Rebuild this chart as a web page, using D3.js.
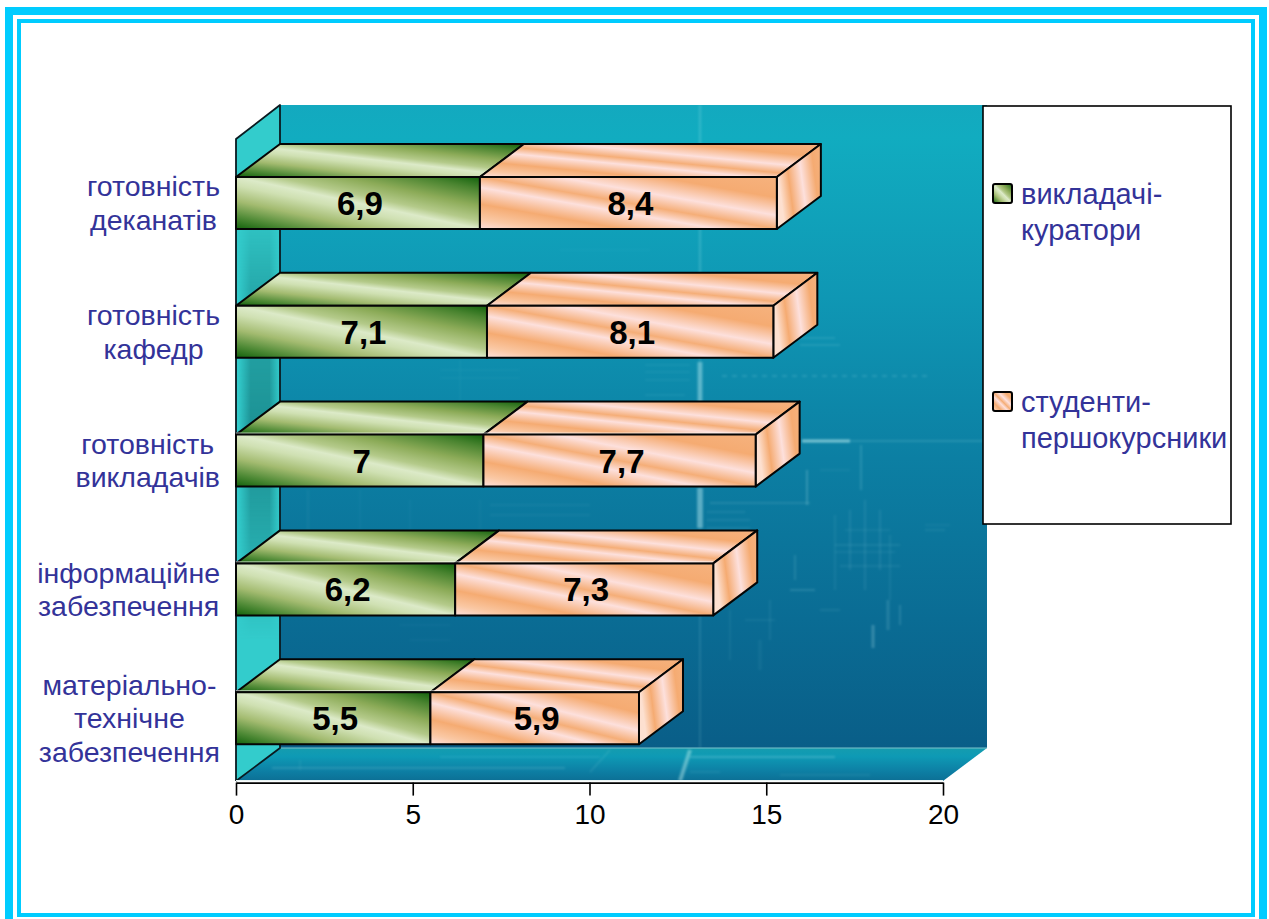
<!DOCTYPE html>
<html><head><meta charset="utf-8">
<script src="https://cdn.jsdelivr.net/npm/d3@7"></script>
<style>
html,body{margin:0;padding:0;background:#fff;overflow:hidden}
svg{display:block}
text{font-family:"Liberation Sans",Arial,sans-serif}
</style></head><body>
<svg id="c" width="1269" height="919"></svg>
<script>
const categories = [
  ["готовність","деканатів"],
  ["готовність","кафедр"],
  ["готовність","викладачів"],
  ["інформаційне","забезпечення"],
  ["матеріально-","технічне","забезпечення"]
];
const curators = [6.9, 7.1, 7, 6.2, 5.5];
const freshmen = [8.4, 8.1, 7.7, 7.3, 5.9];
const seriesNames = [["викладачі-","куратори"],["студенти-","першокурсники"]];
const xTicks = [0, 5, 10, 15, 20];

// faint blueprint texture of the wall picture
const wallTrace = [
  ["M700 105V748",.16,1.5],["M700 105V330",.07,3],["M700 362V402",.4,5],["M700 488V528",.4,6],
  ["M850 441H985",.28,1],["M802 441H850",.6,3],["M722 376H930",.18,1.5,"5 5"],["M645 365H690",.1,1],["M645 372H690",.1,1],["M645 380H690",.1,1],["M645 395H685",.12,1],
  ["M650 345H690",.08,1],["M800 345H840",.2,1],["M800 338H835",.2,1],["M710 503H810",.22,1],["M707 512H745",.16,1],["M707 520H750",.16,1],
  ["M707 528H750",.16,1],["M807 470V505",.28,1.5],["M861 445V490",.2,1.5],["M820 470H850",.1,1],
  ["M835 515V590",.14,1],["M850 510V570",.18,1],["M865 500V590",.18,1],["M880 510V570",.18,1],["M890 535V600",.14,1],
  ["M835 545H900",.16,1],["M835 552H895",.12,1],["M845 530H890",.12,1],["M840 566H900",.14,1],["M925 530H945",.14,1],["M925 525H950",.1,1],
  ["M795 555V580",.12,2],["M873 625V648",.24,3],["M888 600V630",.14,3],["M900 605V625",.14,2],
  ["M820 610H840",.16,1],["M790 590H815",.14,2],["M760 640V670",.06,3],["M770 600V640",.07,2],["M730 610V660",.06,2],["M745 620H775",.06,2],
  ["M460 360V420",.06,1],["M330 420V480",.06,1],["M410 500V530",.06,1],["M308 490V530",.07,1.5],["M360 490V530",.06,1],
  ["M480 500V530",.07,1],["M490 505H590",.1,1],["M490 515H590",.1,1],["M440 370H520",.06,1],["M440 378H520",.06,1],
  ["M400 625H450",.06,1],["M410 640H450",.06,1],["M560 250H650",.05,1],["M580 180H620",.05,1],["M550 470H650",.05,1],["M500 470V400",.05,1]
];
const floorTrace = [
  ["M272 768H565",.14,2],["M680 781L690 750",.42,4],["M690 757H835",.2,2],["M440 757H600",.08,2],
  ["M590 772L610 750",.12,1.5],["M300 760V770",.12,1],["M690 772H720",.14,1],["M780 775H870",.07,2]
];

const svg = d3.select("#c");
const defs = svg.append("defs");

function lin(id, x1, y1, x2, y2, stops){
  const g = defs.append("linearGradient").attr("id", id)
    .attr("x1",x1).attr("y1",y1).attr("x2",x2).attr("y2",y2);
  stops.forEach(([o,c,a])=>{
    const s = g.append("stop").attr("offset",o).attr("stop-color",c);
    if(a!==undefined) s.attr("stop-opacity",a);
  });
}
const green = [[0,"#12620c"],[.12,"#4f8a36"],[.27,"#a3bb70"],[.42,"#cfe0b2"],[.5,"#dceac8"],[.58,"#b4ca8a"],[.72,"#8cab58"],[.88,"#4a8430"],[1,"#12620c"]];
const peach = [[0,"#fde0dc"],[.1,"#fac8a4"],[.24,"#f5ab72"],[.4,"#fde0dc"],[.5,"#f5ae78"],[.63,"#fde0dc"],[.8,"#f5ab72"],[1,"#f6b27e"]];
lin("gGreen",0,1,1,0,green);
lin("gPeach",0,1,1,0,peach);
lin("gSide",0,.25,1,0,[[0,"#fde0d0"],[.22,"#f5ab72"],[.5,"#fde0dc"],[.78,"#f5ab72"],[1,"#f6b27e"]]);
lin("gWall",0,0,0,1,[[0,"#13a9bf"],[.05,"#11acc0"],[.3,"#0f97b4"],[.55,"#0c7fa3"],[.8,"#0a6c94"],[1,"#095e88"]]);
lin("gFloor",0,0,0,1,[[0,"#159cae"],[.25,"#0e9ab5"],[.7,"#0d7fa4"],[1,"#0c6f95"]]);
lin("gLeftBand",0,0,1,0,[[0,"#33cccc"],[.3,"#1c8f92"],[.75,"#1c8f92"],[1,"#33cccc"]]);
lin("gFade",0,0,0,1,[[0,"#fff",0],[.2,"#fff",.55],[.55,"#fff",1],[.78,"#fff",.55],[1,"#fff",0]]);
const m = defs.append("mask").attr("id","fade").attr("maskUnits","userSpaceOnUse")
  .attr("x",236).attr("y",200).attr("width",50).attr("height",440);
m.append("rect").attr("x",236).attr("y",200).attr("width",50).attr("height",440).attr("fill","url(#gFade)");
const blur = defs.append("filter").attr("id","soft").attr("filterUnits","userSpaceOnUse").attr("x",230).attr("y",100).attr("width",770).attr("height",690);
blur.append("feGaussianBlur").attr("stdDeviation",1);

// frame
const frame = svg.append("g").attr("fill","#00ccff");
[[5,7,8,912],[5,7,1262,8],[1259,7,8,912],[17,19,4,898],[17,19,1238,4],[1251,19,4,898],[17,913,1238,4]]
  .forEach(r=>frame.append("rect").attr("x",r[0]).attr("y",r[1]).attr("width",r[2]).attr("height",r[3]));

// scales
const x = d3.scaleLinear().domain([0,20]).range([236,943]);
const y = d3.scaleBand().domain(d3.range(categories.length)).range([138.6,782.6]).paddingInner(.596).paddingOuter(.298);
const dx = 44, dy = 33;
const y0 = 781;
const pts = a => a.map(p=>p.join(",")).join(" ");

// 3D chart room
const room = svg.append("g");
room.append("rect").attr("x",x(0)+dx).attr("y",105).attr("width",x(20)-x(0)).attr("height",y0-dy-105).attr("fill","url(#gWall)");
const tr = room.append("g").attr("fill","none").attr("stroke","#bfeef2").attr("filter","url(#soft)");
wallTrace.forEach(d=>tr.append("path").attr("d",d[0]).attr("stroke-opacity",d[1]).attr("stroke-width",d[2]).attr("stroke-dasharray",d[3]||null));
room.append("polygon").attr("points",pts([[x(0),y0],[x(20),y0],[x(20)+dx,y0-dy],[x(0)+dx,y0-dy]])).attr("fill","url(#gFloor)");
const ftr = room.append("g").attr("fill","none").attr("stroke","#c8f2ee").attr("filter","url(#soft)");
floorTrace.forEach(d=>ftr.append("path").attr("d",d[0]).attr("stroke-opacity",d[1]).attr("stroke-width",d[2]));
room.append("line").attr("x1",x(0)+dx).attr("x2",x(20)+dx).attr("y1",y0-dy).attr("y2",y0-dy).attr("stroke","#7cc4cc").attr("stroke-width",1.2);
room.append("polygon").attr("points",pts([[x(0),y0],[x(0),139],[x(0)+dx,105],[x(0)+dx,y0-dy]])).attr("fill","#33cccc");
room.append("rect").attr("x",x(0)+2).attr("y",200).attr("width",dx-2).attr("height",440).attr("fill","url(#gLeftBand)").attr("mask","url(#fade)");
room.append("path").attr("d",`M${x(0)} ${y0}V139L${x(0)+dx} 105V${y0-dy}L${x(0)} ${y0}`)
  .attr("fill","none").attr("stroke","#0a1a20").attr("stroke-width",1.8).attr("stroke-linejoin","round");

// bars
const rows = categories.map((c,i)=>({i, a:curators[i], b:freshmen[i]}));
const barG = svg.append("g").selectAll("g").data(rows).join("g");
const ink = {stroke:"#050505","stroke-width":2,"stroke-linejoin":"round"};
function style(s){Object.entries(ink).forEach(([k,v])=>s.attr(k,v));return s;}
barG.each(function(d){
  const g = d3.select(this), t = y(d.i), h = y.bandwidth();
  const segs = [[0,d.a,"url(#gGreen)"],[d.a,d.a+d.b,"url(#gPeach)"]];
  segs.forEach(([from,to,fill])=>{
    g.append("polygon").attr("points",pts([[x(from),t],[x(to),t],[x(to)+dx,t-dy],[x(from)+dx,t-dy]])).attr("fill",fill).call(style);
  });
  const end = d.a+d.b;
  g.append("polygon").attr("points",pts([[x(end),t],[x(end)+dx,t-dy],[x(end)+dx,t-dy+h],[x(end),t+h]])).attr("fill","url(#gSide)").call(style);
  segs.forEach(([from,to,fill])=>{
    g.append("rect").attr("x",x(from)).attr("y",t).attr("width",x(to)-x(from)).attr("height",h).attr("fill",fill).call(style);
  });
  if(d.i>=2){
    g.append("line").attr("x1",x(0)).attr("x2",x(end)).attr("y1",t-1.6).attr("y2",t-1.6).attr("stroke","#fff").attr("stroke-opacity",.6).attr("stroke-width",1);
  }
  segs.forEach(([from,to],k)=>{
    g.append("text").attr("x",(x(from)+x(to))/2+2).attr("y",t+h/2+12)
      .attr("text-anchor","middle").attr("font-size",33).attr("font-weight",700).attr("fill","#000")
      .text(String(k?d.b:d.a).replace(".",","));
  });
});

// value axis
svg.append("line").attr("x1",x(0)).attr("x2",x(20)).attr("y1",y0-.4).attr("y2",y0-.4).attr("stroke","#e8f4f4").attr("stroke-width",1.2);
const axis = svg.append("g").attr("transform",`translate(0,${y0+1.6})`)
  .call(d3.axisBottom(x).tickValues(xTicks).tickSize(13).tickSizeOuter(0).tickPadding(9).tickFormat(d3.format("d")));
axis.select(".domain").attr("stroke","#000").attr("stroke-width",1.6);
axis.selectAll(".tick line").attr("stroke","#000").attr("stroke-width",1.6);
axis.selectAll("text").attr("font-size",28).attr("font-family",'"Liberation Sans",Arial,sans-serif').attr("fill","#000");

// category labels: block flush right, lines centred within it
const catFont = 28.5, catLine = 33.5, catRight = 220;
const labels = svg.append("g").attr("fill","#333399").attr("font-size",catFont).attr("text-anchor","middle");
categories.forEach((lines,i)=>{
  const cy = y(i)+y.bandwidth()/2;
  const g = labels.append("g");
  const ts = lines.map((l,k)=>g.append("text").attr("y",cy+(k-(lines.length-1)/2)*catLine+10).text(l));
  const w = d3.max(ts,t=>t.node().getComputedTextLength());
  ts.forEach(t=>t.attr("x",catRight-w/2));
});

// legend
const lg = svg.append("g");
lg.append("rect").attr("x",983).attr("y",106).attr("width",248).attr("height",418).attr("fill","#fff").attr("stroke","#000").attr("stroke-width",1.6);
seriesNames.forEach((lines,i)=>{
  const top = [184,392][i];
  lg.append("rect").attr("x",993).attr("y",top).attr("width",19).attr("height",19).attr("rx",2)
    .attr("fill",i?"url(#gPeach)":"url(#gGreen)").attr("stroke","#000").attr("stroke-width",2);
  lines.forEach((l,k)=>lg.append("text").attr("x",1021).attr("y",top+20+k*36).attr("fill","#333399").attr("font-size",29).text(l));
});
</script>
</body></html>
